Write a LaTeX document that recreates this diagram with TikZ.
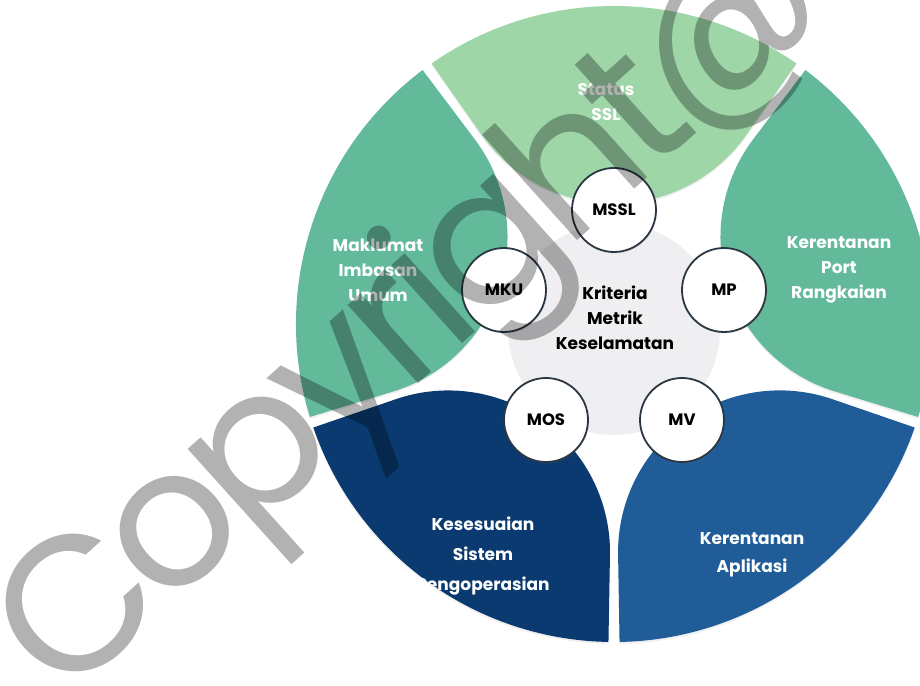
\documentclass[tikz,border=0pt]{standalone}
\usepackage{fontspec}
\setmainfont{Poppins}
\usetikzlibrary{positioning,shadows}

\definecolor{sslgreen}{RGB}{158,214,168}
\definecolor{midgreen}{RGB}{99,186,155}
\definecolor{navy}{RGB}{10,58,112}
\definecolor{appblue}{RGB}{31,92,152}
\definecolor{hubgray}{RGB}{239,239,241}
\definecolor{ringgray}{RGB}{42,54,66}

\begin{document}
\begin{tikzpicture}[x=1pt,y=1pt,
	petal/.style={shift={(614,361)}, drop shadow={opacity=0.12, shadow xshift=0pt, shadow yshift=-2pt}},
	lbl/.style={text=white, align=center, font=\bfseries\fontsize{17}{25}\selectfont},
	metric/.style={circle, draw=ringgray, line width=1.8pt, fill=white, minimum size=84pt, inner sep=0pt,
		font=\bfseries\fontsize{16.5}{18}\selectfont, drop shadow={opacity=0.15, shadow xshift=1pt, shadow yshift=-1.5pt}}]
	\useasboundingbox (0,0) rectangle (920,685);
	\clip (0,0) rectangle (920,685);

	% five petals
	\fill[petal, sslgreen, rotate=90] (-35:318) arc[start angle=-35, end angle=35, radius=318] -- (35:231) arc[start angle=125, end angle=235, radius=161.7] -- cycle;
	\fill[petal, midgreen, rotate=18] (-35:318) arc[start angle=-35, end angle=35, radius=318] -- (35:231) arc[start angle=125, end angle=235, radius=161.7] -- cycle;
	\fill[petal, appblue, rotate=-54] (-35:318) arc[start angle=-35, end angle=35, radius=318] -- (35:231) arc[start angle=125, end angle=235, radius=161.7] -- cycle;
	\fill[petal, navy, rotate=-126] (-35:318) arc[start angle=-35, end angle=35, radius=318] -- (35:231) arc[start angle=125, end angle=235, radius=161.7] -- cycle;
	\fill[petal, midgreen, rotate=162] (-35:318) arc[start angle=-35, end angle=35, radius=318] -- (35:231) arc[start angle=125, end angle=235, radius=161.7] -- cycle;

	\fill[hubgray] (614,356) circle (106);

	\node (ssl) at (606,583) [lbl] {Status\\SSL};
	\node (scan) at (378,415) [lbl] {Maklumat\\Imbasan\\Umum};
	\node (port) at (839,415) [lbl] {Kerentanan\\Port\\Rangkaian};
	\node (os) at (483,129) [lbl, font=\bfseries\fontsize{17}{30}\selectfont] {Kesesuaian\\Sistem\\Pengoperasian};
	\node (app) at (752,130) [lbl, font=\bfseries\fontsize{17}{28}\selectfont] {Kerentanan\\Aplikasi};

	\node (hub) at (615,367) [align=center, font=\bfseries\fontsize{17}{25}\selectfont] {Kriteria\\Metrik\\Keselamatan};

	\node (mssl) at (614,475) [metric] {MSSL};
	\node (mp) at (724,395) [metric] {MP};
	\node (mv) at (682,265) [metric] {MV};
	\node (mos) at (546,265) [metric] {MOS};
	\node (mku) at (504,395) [metric] {MKU};

	\node (wmark) at (450,330) [rotate=42, anchor=base, text=black, text opacity=0.3,
		font=\fontsize{192}{192}\selectfont\addfontfeature{LetterSpace=-6}] {Copyright@};

\end{tikzpicture}
\end{document}
